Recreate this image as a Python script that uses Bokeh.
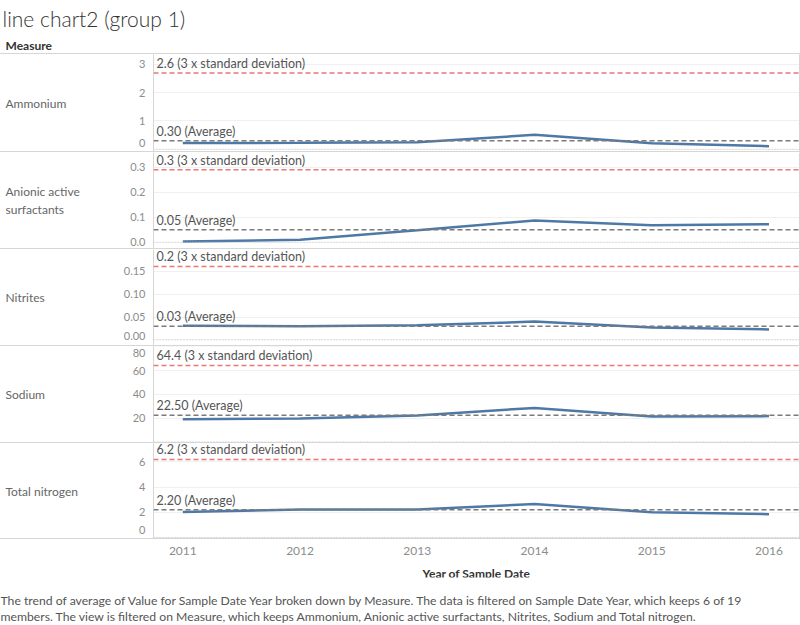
from bokeh.plotting import figure
from bokeh.layouts import column, row
from bokeh.models import Range1d, FixedTicker, Label, Span, LinearAxis, Spacer
from bokeh.embed import file_html
from bokeh.resources import INLINE

FONT = "Lato"

# ---------------- data ----------------
years = [2011, 2012, 2013, 2014, 2015, 2016]
measures = ["Ammonium", "Anionic active\nsurfactants", "Nitrites", "Sodium", "Total nitrogen"]
ammonium = [0.22, 0.23, 0.25, 0.51, 0.21, 0.11]
anionic = [0.003, 0.010, 0.048, 0.087, 0.068, 0.072]
nitrites = [0.031, 0.030, 0.032, 0.040, 0.027, 0.023]
sodium = [19.0, 19.8, 22.3, 28.6, 21.4, 21.7]
total_nitrogen = [2.02, 2.22, 2.22, 2.66, 2.00, 1.85]
series = [ammonium, anionic, nitrites, sodium, total_nitrogen]
averages = [0.30, 0.05, 0.03, 22.50, 2.20]
average_labels = ["0.30", "0.05", "0.03", "22.50", "2.20"]
std3 = [2.70, 0.29, 0.16, 64.4, 6.2]
std3_labels = ["2.6", "0.3", "0.2", "64.4", "6.2"]
y_ticks = [[0, 1, 2, 3], [0.0, 0.1, 0.2, 0.3], [0.0, 0.05, 0.10, 0.15], [20, 40, 60, 80], [0, 2, 4, 6]]
y_tick_labels = [["0", "1", "2", "3"], ["0.0", "0.1", "0.2", "0.3"],
                 ["0.00", "0.05", "0.10", "0.15"], ["20", "40", "60", "80"],
                 ["0", "2", "4", "6"]]
y_ranges = [(-0.078, 3.35), (-0.025, 0.359), (-0.012, 0.197), (-0.5, 80.3), (-0.08, 7.46)]
x_title = "Year of Sample Date"
title = "line chart2 (group 1)"
caption1 = ("The trend of average of Value for Sample Date Year broken down by Measure. "
            "The data is filtered on Sample Date Year, which keeps 6 of 19")
caption2 = ("members. The view is filtered on Measure, which keeps Ammonium, Anionic active "
            "surfactants, Nitrites, Sodium and Total nitrogen.")

# ---------------- layout / style ----------------
W = 800
LAB_W = 146          # row-header column (row label + tick labels)
LEFT = 153           # left edge of the plotting panes
RIGHT = 1
SEP = "#d6d6d6"
panel_heights = [97, 96, 96, 96, 95]
# tick labels at a pane edge are nudged inside the pane (pixels, + = up)
edge_nudge = {(0, 0): 6, (2, 0): 4, (3, 3): -6, (4, 0): 7}
x_range = Range1d(2010.75, 2016.26)


def bare(width, height, **kw):
    p = figure(width=width, height=height, toolbar_location=None, output_backend="svg",
               title=None, frame_align=False, **kw)
    p.outline_line_color = None
    p.background_fill_color = "white"
    p.border_fill_color = "white"
    return p


def separator():
    return Spacer(width=W, height=1, styles={"background-color": SEP})


def border_axis(p, side):
    ax = LinearAxis(ticker=FixedTicker(ticks=[]), axis_line_color=SEP,
                    major_tick_line_color=None, minor_tick_line_color=None,
                    major_label_standoff=0)
    p.add_layout(ax, side)


# ---------------- header ----------------
header = bare(W, 53, x_range=Range1d(0, W), y_range=Range1d(0, 53), min_border=0,
              x_axis_location=None, y_axis_location=None)
header.grid.visible = False
header.add_layout(Label(x=2, y=35, text=title, text_font="Lato Light, Lato",
                        text_font_size="21px", text_color="#333333",
                        text_baseline="middle", text_align="left"))
header.add_layout(Label(x=5, y=8, text="Measure", text_font=FONT, text_font_size="12px",
                        text_font_style="bold", text_color="#333333",
                        text_baseline="middle", text_align="left"))

parts = [header, separator()]

# ---------------- panels ----------------
for i in range(5):
    h = panel_heights[i]
    lo, hi = y_ranges[i]
    y_range = Range1d(lo, hi)

    # row header: measure name and the value scale's tick labels (shared y scale)
    lab = bare(LAB_W, h, x_range=Range1d(0, LAB_W), y_range=y_range, min_border=0,
               x_axis_location=None, y_axis_location=None)
    lab.grid.visible = False
    lab.add_layout(Label(x=5, y=h / 2, x_units="screen", y_units="screen", text=measures[i],
                         text_font=FONT, text_font_size="12px", text_color="#666666",
                         text_align="left", text_baseline="middle", text_line_height=1.25))
    for j, (t, s) in enumerate(zip(y_ticks[i], y_tick_labels[i])):
        lab.add_layout(Label(x=LAB_W - 1, y=t, y_offset=edge_nudge.get((i, j), 0), text=s,
                             text_font=FONT, text_font_size="11px", text_color="#8c8c8c",
                             text_align="right", text_baseline="middle"))

    p = bare(W - LAB_W, h, x_range=x_range, y_range=y_range,
             x_axis_location=None, y_axis_location=None,
             min_border_left=LEFT - LAB_W, min_border_right=RIGHT,
             min_border_top=0, min_border_bottom=0)
    border_axis(p, "left")
    border_axis(p, "right")
    p.xgrid.visible = False
    p.ygrid.ticker = FixedTicker(ticks=y_ticks[i])
    p.ygrid.grid_line_color = "#f0f0f0"

    p.add_layout(Span(location=0, dimension="width", line_color="#c8c8c8",
                      line_dash="1 2", line_width=1))
    p.add_layout(Span(location=std3[i], dimension="width", line_color="#e8686a",
                      line_dash="5 3", line_width=1.5, line_alpha=0.9))
    p.add_layout(Span(location=averages[i], dimension="width", line_color="#7a7a7a",
                      line_dash="5 3", line_width=1.5))
    p.line(years, series[i], line_color="#4e79a7", line_width=2.5)

    p.add_layout(Label(x=3, y=std3[i], x_units="screen", y_units="data", y_offset=2,
                       text=f"{std3_labels[i]} (3 x standard deviation)", text_font=FONT,
                       text_font_size="12.5px", text_color="#555555",
                       text_align="left", text_baseline="bottom"))
    p.add_layout(Label(x=3, y=averages[i], x_units="screen", y_units="data", y_offset=2,
                       text=f"{average_labels[i]} (Average)", text_font=FONT,
                       text_font_size="12.5px", text_color="#555555",
                       text_align="left", text_baseline="bottom"))
    parts.append(row(lab, p, spacing=0))
    parts.append(separator())

# ---------------- x axis ----------------
xa = bare(W, 38, x_range=x_range, y_range=Range1d(0, 1), x_axis_location="below",
          y_axis_location=None, min_border_left=LEFT, min_border_right=RIGHT,
          min_border_top=0, min_border_bottom=0)
border_axis(xa, "right")
xa.grid.visible = False
xax = xa.xaxis[0]
xax.ticker = FixedTicker(ticks=years)
xax.axis_line_color = None
xax.major_tick_line_color = None
xax.minor_tick_line_color = None
xax.major_label_standoff = 1
xax.major_label_text_font = FONT
xax.major_label_text_font_size = "12px"
xax.major_label_text_color = "#8c8c8c"
xax.axis_label = x_title
xax.axis_label_text_font = FONT
xax.axis_label_text_font_size = "12px"
xax.axis_label_text_font_style = "bold"
xax.axis_label_text_color = "#333333"
xax.axis_label_standoff = 8
parts.append(xa)

# ---------------- caption ----------------
cap = bare(W, 48, x_range=Range1d(0, W), y_range=Range1d(0, 48), min_border=0,
           x_axis_location=None, y_axis_location=None)
cap.grid.visible = False
cap.add_layout(Label(x=0, y=25, text=caption1, text_font=FONT, text_font_size="12.2px",
                     text_color="#555555", text_baseline="middle", text_align="left"))
cap.add_layout(Label(x=0, y=9, text=caption2, text_font=FONT, text_font_size="12.2px",
                     text_color="#555555", text_baseline="middle", text_align="left"))
parts.append(cap)

layout = column(*parts, spacing=0)
open("out.html", "w").write(file_html(layout, INLINE))
